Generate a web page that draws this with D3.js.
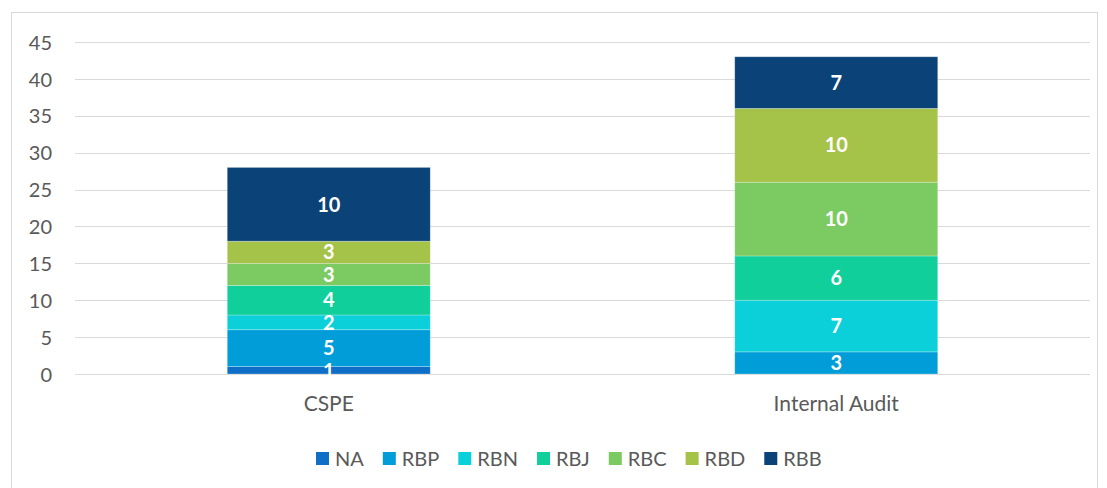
<!DOCTYPE html>
<html>
<head>
<meta charset="utf-8">
<script src="https://cdn.jsdelivr.net/npm/d3@7"></script>
<style>
  body { margin: 0; background: #fff; }
  text { font-family: Lato, "Open Sans", sans-serif; }
</style>
</head>
<body>
<div id="chart"></div>
<script>
const categories = ["CSPE", "Internal Audit"];
const seriesNames = ["NA", "RBP", "RBN", "RBJ", "RBC", "RBD", "RBB"];
const seriesValues = [
  [1, 0],    // NA
  [5, 3],    // RBP
  [2, 7],    // RBN
  [4, 6],    // RBJ
  [3, 10],   // RBC
  [3, 10],   // RBD
  [10, 7]    // RBB
];
const yTicks = [0, 5, 10, 15, 20, 25, 30, 35, 40, 45];
const COLORS = ["#0F6FC6", "#009DD9", "#0BD0D9", "#10CF9B", "#7CCA62", "#A5C249", "#0B4278"];

let width = 1107, height = 488;
let svg = d3.select("#chart").append("svg").attr("width", width).attr("height", height);

// outer frame
svg.append("rect").attr("x", 11.5).attr("y", 12.5).attr("width", 1086).attr("height", 490)
  .attr("fill", "none").attr("stroke", "#d9d9d9");

let x = d3.scaleBand().domain(categories).range([75, 1090]);
let y = d3.scaleLinear().domain([0, 45]).range([374, 42]);

// gridlines
svg.append("g").selectAll("line").data(yTicks).join("line")
  .attr("x1", 75).attr("x2", 1090)
  .attr("y1", d => Math.round(y(d)) + 0.5).attr("y2", d => Math.round(y(d)) + 0.5)
  .attr("stroke", "#d9d9d9").attr("stroke-width", 1);

// y axis labels
let yAxis = d3.axisLeft(y).tickValues(yTicks).tickSize(0).tickPadding(0);
let ya = svg.append("g").attr("transform", "translate(52,0)").call(yAxis);
ya.select(".domain").remove();
ya.selectAll("text").attr("fill", "#595959").attr("font-size", "20px").attr("dy", "0.36em");

// x axis labels
let xAxis = d3.axisBottom(x).tickSize(0).tickPadding(0);
let xa = svg.append("g").attr("transform", "translate(0,396)").call(xAxis);
xa.select(".domain").remove();
xa.selectAll("text").attr("fill", "#595959").attr("font-size", "21px").attr("dy", "0.71em");

// stacked bars
let rows = categories.map((c, i) => {
  let r = { cat: c };
  seriesNames.forEach((s, j) => r[s] = seriesValues[j][i]);
  return r;
});
let stack = d3.stack().keys(seriesNames)(rows);
let barW = x.bandwidth() * 0.4;

let layers = svg.append("g").selectAll("g").data(stack).join("g")
  .attr("fill", (d, i) => COLORS[i]);

layers.selectAll("rect").data(d => d).join("rect")
  .attr("x", d => x(d.data.cat) + x.bandwidth() / 2 - barW / 2)
  .attr("width", barW)
  .attr("y", d => y(d[1]))
  .attr("height", d => y(d[0]) - y(d[1]))
  .attr("stroke", "rgba(255,255,255,0.35)")
  .attr("stroke-width", 0.75);

// data labels (on top of all bars)
let labels = stack.flatMap(s => s.filter(p => p[1] - p[0] > 0));
svg.append("g").selectAll("text").data(labels).join("text")
  .attr("x", d => x(d.data.cat) + x.bandwidth() / 2)
  .attr("y", d => (y(d[0]) + y(d[1])) / 2)
  .attr("dy", "0.36em")
  .attr("text-anchor", "middle")
  .attr("fill", "#fff")
  .attr("font-weight", "bold")
  .attr("font-size", "20px")
  .text(d => d[1] - d[0]);

// legend
let legend = svg.append("g");
let lx = 316;
seriesNames.forEach((s, i) => {
  let g = legend.append("g").attr("transform", `translate(${lx},452)`);
  g.append("rect").attr("width", 13).attr("height", 13).attr("fill", COLORS[i]);
  let t = g.append("text").attr("x", 19).attr("y", 6.5).attr("dy", "0.36em")
    .attr("fill", "#595959").attr("font-size", "20px").text(s);
  lx += 19 + t.node().getComputedTextLength() + 19;
});
</script>
</body>
</html>
